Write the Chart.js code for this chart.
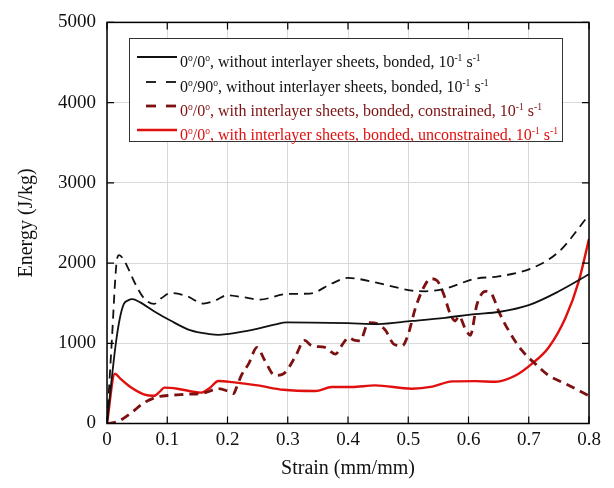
<!DOCTYPE html>
<html>
<head>
<meta charset="utf-8">
<script src="https://cdn.jsdelivr.net/npm/chart.js@4"></script>
<style>
  html, body { margin: 0; padding: 0; background: #fff; }
  #wrap { width: 614px; height: 488px; }
</style>
</head>
<body>
<div id="wrap"><canvas id="energyChart" width="614" height="488"></canvas></div>
<script>
// values
const xTicks = [0, 0.1, 0.2, 0.3, 0.4, 0.5, 0.6, 0.7, 0.8];
const yTicks = [0, 1000, 2000, 3000, 4000, 5000];

const labels = [
  '0^{o}/0^{o}, without interlayer sheets, bonded, 10^{-1} s^{-1}',
  '0^{o}/90^{o}, without interlayer sheets, bonded, 10^{-1} s^{-1}',
  '0^{o}/0^{o}, with interlayer sheets, bonded, constrained, 10^{-1} s^{-1}',
  '0^{o}/0^{o}, with interlayer sheets, bonded, unconstrained, 10^{-1} s^{-1}'
];

const strainA = [0, 0.007, 0.0145, 0.021, 0.028, 0.035, 0.042, 0.055, 0.078, 0.106, 0.139, 0.17, 0.185, 0.2, 0.225, 0.254, 0.28, 0.298, 0.34, 0.40, 0.45, 0.506, 0.561, 0.611, 0.65, 0.70, 0.75, 0.8];
const energyA = [0, 500, 990, 1300, 1490, 1535, 1550, 1510, 1400, 1280, 1160, 1115, 1105, 1115, 1145, 1190, 1235, 1260, 1258, 1250, 1240, 1278, 1318, 1364, 1390, 1475, 1648, 1860];

const strainB = [0, 0.008, 0.0155, 0.02, 0.027, 0.036, 0.045, 0.061, 0.078, 0.09, 0.106, 0.133, 0.16, 0.183, 0.199, 0.225, 0.254, 0.298, 0.337, 0.373, 0.40, 0.45, 0.506, 0.528, 0.561, 0.611, 0.65, 0.705, 0.75, 0.8];
const energyB = [0, 1030, 1980, 2100, 2050, 1920, 1770, 1565, 1490, 1560, 1627, 1586, 1495, 1545, 1600, 1575, 1545, 1615, 1620, 1745, 1815, 1750, 1657, 1648, 1680, 1805, 1833, 1936, 2142, 2600];

const strainC = [0, 0.017, 0.039, 0.061, 0.084, 0.106, 0.133, 0.161, 0.185, 0.2, 0.21, 0.215, 0.223, 0.235, 0.249, 0.262, 0.279, 0.293, 0.312, 0.328, 0.34, 0.362, 0.379, 0.392, 0.401, 0.41, 0.42, 0.434, 0.451, 0.462, 0.476, 0.49, 0.5, 0.512, 0.528, 0.537, 0.548, 0.559, 0.57, 0.578, 0.584, 0.595, 0.603, 0.614, 0.628, 0.639, 0.65, 0.667, 0.689, 0.711, 0.733, 0.761, 0.8];
const energyC = [0, 22, 126, 257, 331, 352, 364, 380, 434, 405, 372, 450, 600, 743, 948, 784, 598, 620, 825, 1035, 969, 948, 866, 1000, 1072, 1040, 1031, 1257, 1237, 1163, 990, 969, 1113, 1442, 1730, 1805, 1780, 1607, 1360, 1278, 1340, 1175, 1100, 1484, 1648, 1607, 1401, 1154, 907, 743, 598, 496, 345];

const strainD = [0, 0.013, 0.022, 0.039, 0.061, 0.078, 0.088, 0.095, 0.117, 0.156, 0.17, 0.185, 0.208, 0.25, 0.293, 0.346, 0.373, 0.406, 0.445, 0.506, 0.54, 0.573, 0.611, 0.645, 0.678, 0.705, 0.733, 0.761, 0.783, 0.8];
const energyD = [0, 620, 560, 455, 364, 345, 400, 447, 434, 385, 440, 530, 516, 475, 420, 405, 455, 455, 475, 434, 460, 525, 528, 520, 598, 743, 948, 1318, 1772, 2300];

const serif = "'Liberation Serif', 'Times New Roman', serif";
const darkRed = '#7d1010';
const red = '#e0100f';

function pts(xs, ys) {
  return xs.map((x, i) => ({ x: x, y: ys[i] }));
}

// draws text with ^{...} parts raised as superscripts
function richText(ctx, text, x, y, size) {
  const parts = text.split(/(\^\{[^}]*\})/);
  parts.forEach(p => {
    if (!p) return;
    if (p.startsWith('^{')) {
      const s = p.slice(2, -1);
      ctx.font = (size * 0.6) + 'px ' + serif;
      ctx.fillText(s, x, y - size * 0.4);
      x += ctx.measureText(s).width;
    } else {
      ctx.font = size + 'px ' + serif;
      ctx.fillText(p, x, y);
      x += ctx.measureText(p).width;
    }
  });
}

const legendBox = {
  id: 'legendBox',
  afterDatasetsDraw(chart) {
    const ctx = chart.ctx;
    ctx.save();
    ctx.fillStyle = '#fff';
    ctx.fillRect(129, 38, 434, 103);
    ctx.strokeStyle = '#333';
    ctx.lineWidth = 1;
    ctx.strokeRect(129.5, 38.5, 433, 103);
    const baselines = [67, 92, 116, 140];
    const textColors = ['#111', '#111', darkRed, red];
    chart.data.datasets.forEach((ds, i) => {
      const y = baselines[i] - 10;
      ctx.beginPath();
      ctx.strokeStyle = ds.borderColor;
      ctx.lineWidth = ds.borderWidth;
      if (ds.borderDash) {
        ctx.setLineDash([10, 10]);
        ctx.moveTo(146, y);
        ctx.lineTo(177, y);
      } else {
        ctx.moveTo(137, y);
        ctx.lineTo(177, y);
      }
      ctx.stroke();
      ctx.setLineDash([]);
      ctx.fillStyle = textColors[i];
      ctx.textBaseline = 'alphabetic';
      richText(ctx, ds.label, 180, baselines[i], 16);
    });
    ctx.restore();
  }
};

const frame = {
  id: 'frame',
  afterDraw(chart) {
    const { ctx, chartArea: a, scales } = chart;
    ctx.save();
    ctx.strokeStyle = '#000';
    ctx.lineWidth = 1.5;
    ctx.strokeRect(a.left, a.top, a.right - a.left, a.bottom - a.top);
    ctx.lineWidth = 1.2;
    ctx.beginPath();
    xTicks.forEach(v => {
      const px = scales.x.getPixelForValue(v);
      ctx.moveTo(px, a.bottom); ctx.lineTo(px, a.bottom - 7);
      ctx.moveTo(px, a.top); ctx.lineTo(px, a.top + 7);
    });
    yTicks.forEach(v => {
      const py = scales.y.getPixelForValue(v);
      ctx.moveTo(a.left, py); ctx.lineTo(a.left + 7, py);
      ctx.moveTo(a.right, py); ctx.lineTo(a.right - 7, py);
    });
    ctx.stroke();
    ctx.restore();
  }
};

new Chart(document.getElementById('energyChart'), {
  type: 'line',
  data: {
    datasets: [
      { label: labels[0], data: pts(strainA, energyA), borderColor: '#111', borderWidth: 1.8 },
      { label: labels[1], data: pts(strainB, energyB), borderColor: '#111', borderWidth: 1.8, borderDash: [9, 6] },
      { label: labels[2], data: pts(strainC, energyC), borderColor: darkRed, borderWidth: 2.8, borderDash: [9, 6] },
      { label: labels[3], data: pts(strainD, energyD), borderColor: red, borderWidth: 2.4 }
    ]
  },
  options: {
    responsive: false,
    animation: false,
    layout: { padding: { left: 0, right: 25, top: 18, bottom: 0 } },
    elements: {
      point: { radius: 0 },
      line: { cubicInterpolationMode: 'monotone', fill: false }
    },
    plugins: { legend: { display: false }, tooltip: { enabled: false } },
    scales: {
      x: {
        type: 'linear',
        min: 0,
        max: 0.8,
        afterBuildTicks: s => { s.ticks = xTicks.map(v => ({ value: v })); },
        afterFit: s => { s.height = 64.5; },
        ticks: {
          padding: 5,
          color: '#111',
          font: { family: serif, size: 19 },
          callback: v => String(+v.toFixed(1))
        },
        grid: { color: '#d9d9d9', drawTicks: false },
        border: { display: false },
        title: {
          display: true,
          text: 'Strain (mm/mm)',
          color: '#111',
          font: { family: serif, size: 20 },
          padding: { top: 0, bottom: 7 }
        }
      },
      y: {
        min: 0,
        max: 5000,
        afterBuildTicks: s => { s.ticks = yTicks.map(v => ({ value: v })); },
        afterFit: s => { s.width = 107; },
        ticks: {
          padding: 11,
          color: '#111',
          font: { family: serif, size: 19 },
          callback: v => String(v)
        },
        grid: { color: '#d9d9d9', drawTicks: false },
        border: { display: false },
        title: {
          display: true,
          text: 'Energy (J/kg)',
          color: '#111',
          font: { family: serif, size: 20 },
          padding: { top: 15, bottom: 0 }
        }
      }
    }
  },
  plugins: [legendBox, frame]
});
</script>
</body>
</html>
